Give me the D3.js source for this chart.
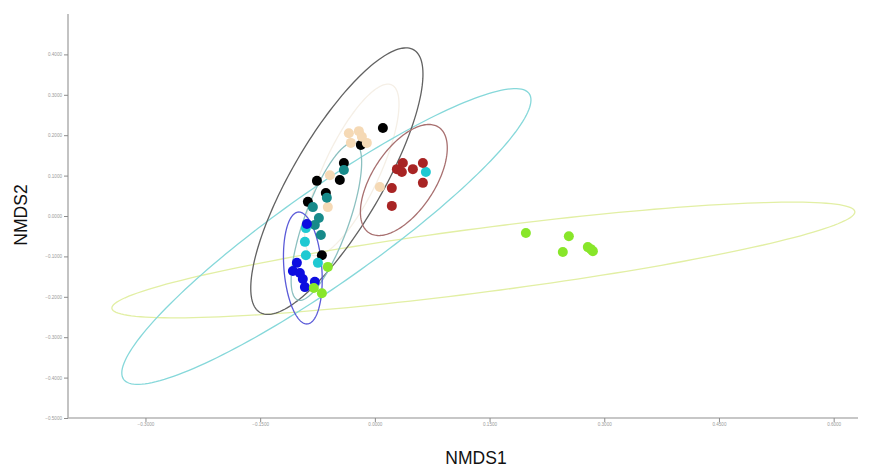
<!DOCTYPE html>
<html>
<head>
<meta charset="utf-8">
<script src="https://cdn.jsdelivr.net/npm/d3@7"></script>
<style>
  html, body { margin: 0; padding: 0; background: #fff; }
  svg { display: block; }
</style>
</head>
<body>
<script>
// NMDS ordination: site scores per group with group ellipses
const groups = ["black", "wheat", "teal", "cyan", "blue", "brown", "green"];
const pointColors = ["#000000", "#f5d9b5", "#178a8a", "#1fc9d2", "#0d0de0", "#a82424", "#88e62a"];
const ellipseColors = ["#626262", "#f5efe6", "#8cc0c0", "#86d8da", "#5b5bd8", "#a87070", "#e2efa4"];

const blackPts = [[0.0105, 0.218], [-0.0183, 0.176], [-0.0405, 0.131], [-0.0458, 0.089], [-0.0758, 0.087], [-0.0641, 0.057], [-0.0876, 0.035], [-0.0693, -0.097]];
const wheatPts = [[-0.0340, 0.205], [-0.0209, 0.210], [-0.0314, 0.181], [-0.0105, 0.181], [-0.0170, 0.196], [-0.0588, 0.101], [-0.0615, 0.022], [0.0065, 0.072]];
const tealPts = [[-0.0405, 0.114], [-0.0628, 0.045], [-0.0811, 0.022], [-0.0732, -0.005], [-0.0785, -0.022], [-0.0706, -0.047]];
const cyanPts = [[0.0667, 0.109], [-0.0902, -0.030], [-0.0915, -0.064], [-0.0902, -0.097], [-0.0745, -0.116]];
const bluePts = [[-0.0889, -0.020], [-0.1020, -0.116], [-0.1072, -0.136], [-0.0981, -0.141], [-0.0942, -0.156], [-0.0915, -0.176], [-0.0785, -0.163]];
const brownPts = [[0.0366, 0.131], [0.0288, 0.116], [0.0353, 0.109], [0.0497, 0.116], [0.0628, 0.131], [0.0628, 0.082], [0.0222, 0.069], [0.0222, 0.025]];
const greenPts = [[-0.0615, -0.126], [-0.0693, -0.191], [-0.0798, -0.178], [0.1975, -0.042], [0.2537, -0.050], [0.2458, -0.089], [0.2785, -0.077], [0.2851, -0.087], [0.2825, -0.082]];

// ellipse: [centreX, centreY, uX, uY, vX, vY]; point(t) = c + u*cos t + v*sin t
const blackEllipse = [-0.0497, 0.0862, 0.1006, 0.3250, 0.0506, -0.0567];
const wheatEllipse = [-0.0301, 0.1139, 0.0523, 0.2104, 0.0327, -0.0297];
const tealEllipse = [-0.0634, -0.0136, 0.0373, 0.1943, 0.0271, -0.0186];
const cyanEllipse = [-0.0634, -0.0507, 0.2652, 0.3535, 0.0354, -0.0951];
const blueEllipse = [-0.0942, -0.1287, -0.0052, 0.1386, 0.0248, 0.0];
const brownEllipse = [0.0379, 0.0891, 0.0455, 0.1307, 0.0340, -0.0426];
const greenEllipse = [0.1419, -0.1089, 0.4858, 0.1198, 0.0054, -0.0785];

const xTicks = [-0.3, -0.15, 0, 0.15, 0.3, 0.45, 0.6];
const yTicks = [0.4, 0.3, 0.2, 0.1, 0, -0.1, -0.2, -0.3, -0.4, -0.5];

const allPoints = [blackPts, wheatPts, tealPts, cyanPts, bluePts, brownPts, greenPts];
const allEllipses = [wheatEllipse, greenEllipse, cyanEllipse, blackEllipse, tealEllipse, blueEllipse, brownEllipse];
const ellipseColorOrder = [1, 6, 3, 0, 2, 4, 5];

const W = 882, H = 470;
const svg = d3.select("body").append("svg").attr("width", W).attr("height", H);

const x = d3.scaleLinear().domain([-0.4, 0.63]).range([69, 856.6]);
const y = d3.scaleLinear().domain([-0.5, 0.5]).range([418, 14]);

const axisColor = "#b4b4b4";
const fmt = d3.format(".4f");

// Axes
const xAxis = svg.append("g").attr("transform", `translate(0,418)`)
  .call(d3.axisBottom(x).tickValues(xTicks).tickFormat(fmt).tickSize(4).tickSizeOuter(0));
xAxis.select(".domain").attr("d", `M68,0H858`);
const yAxis = svg.append("g").attr("transform", `translate(68,0)`)
  .call(d3.axisLeft(y).tickValues(yTicks).tickFormat(fmt).tickSize(4).tickSizeOuter(0));
yAxis.select(".domain").attr("d", `M0,14V418`);
[xAxis, yAxis].forEach(g => {
  g.select(".domain").attr("stroke", axisColor).attr("stroke-width", 1.6);
  g.selectAll(".tick line").attr("stroke", "#8c8c8c").attr("stroke-width", 1);
  g.selectAll(".tick text").attr("fill", "#9a9a9a").attr("font-size", 4.6)
    .attr("font-family", "Liberation Sans, Arial, sans-serif");
});
xAxis.selectAll(".tick text").attr("dy", "0.6em").attr("y", 5);
yAxis.selectAll(".tick text").attr("x", -6);

// Ellipses
const ts = d3.range(0, 2 * Math.PI + 0.001, Math.PI / 90);
const line = d3.line().x(d => x(d[0])).y(d => y(d[1])).curve(d3.curveLinearClosed);
allEllipses.forEach((e, i) => {
  const pts = ts.map(t => [e[0] + e[2] * Math.cos(t) + e[4] * Math.sin(t), e[1] + e[3] * Math.cos(t) + e[5] * Math.sin(t)]);
  svg.append("path").attr("d", line(pts)).attr("fill", "none")
    .attr("stroke", ellipseColors[ellipseColorOrder[i]]).attr("stroke-width", 1.3);
});

// Points
allPoints.forEach((pts, gi) => {
  svg.append("g").selectAll("circle").data(pts).join("circle")
    .attr("cx", d => x(d[0])).attr("cy", d => y(d[1])).attr("r", 5)
    .attr("fill", pointColors[gi]);
});

// Axis titles
svg.append("text").attr("x", 476).attr("y", 464).attr("text-anchor", "middle")
  .attr("font-family", "Liberation Sans, Arial, sans-serif").attr("font-size", 17.5)
  .attr("fill", "#111").text("NMDS1");
svg.append("text").attr("transform", "translate(27,215) rotate(-90)").attr("text-anchor", "middle")
  .attr("font-family", "Liberation Sans, Arial, sans-serif").attr("font-size", 17.5)
  .attr("fill", "#111").text("NMDS2");
</script>
</body>
</html>
